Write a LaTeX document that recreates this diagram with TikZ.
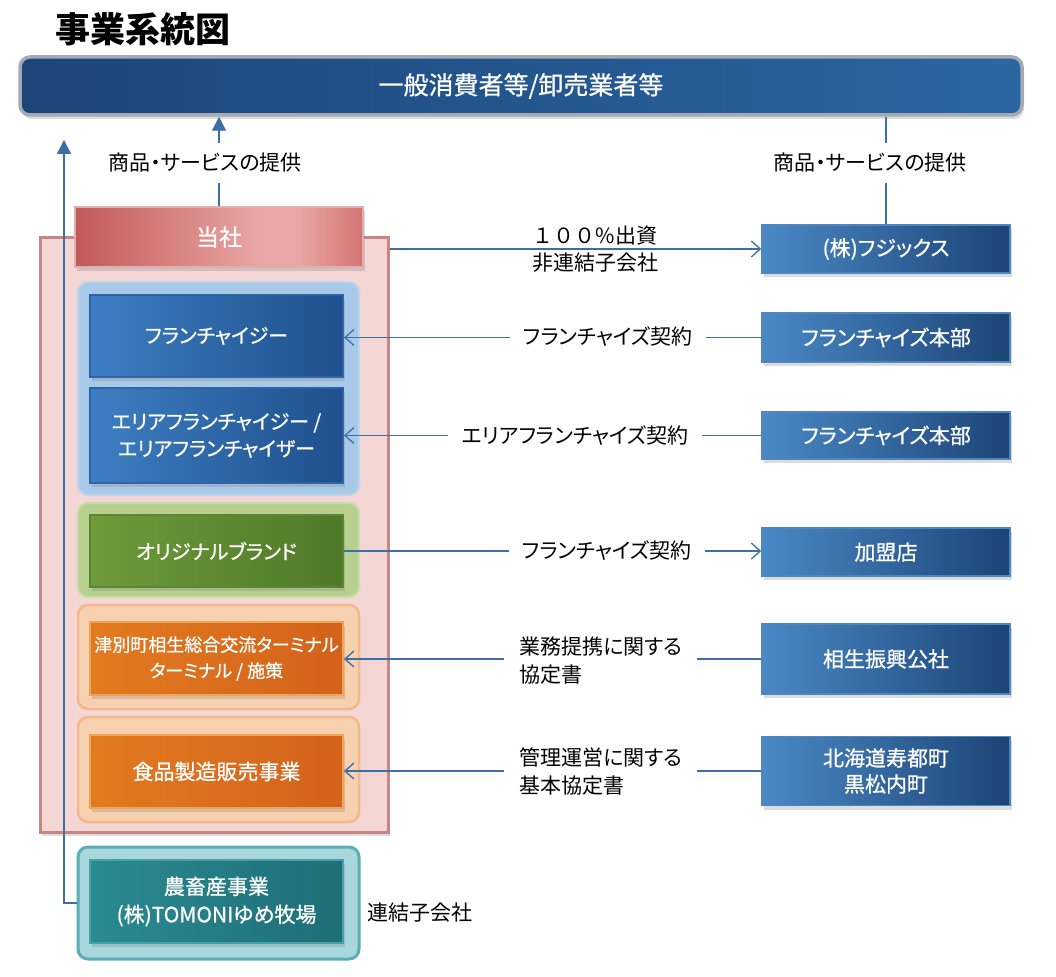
\documentclass[tikz,border=0pt]{standalone}
\usepackage{fontspec}
\setmainfont{Noto Sans CJK JP}[RawFeature=+palt]
\newfontfamily\jpfull{Noto Sans CJK JP}
\newfontfamily\jpsemi{Noto Sans CJK JP}[RawFeature=+palt, FakeBold=0.8]
\usetikzlibrary{arrows.meta,shadows,calc}

\definecolor{connc}{HTML}{3B6FA6}
\definecolor{tbL}{HTML}{1C4579}
\definecolor{tbR}{HTML}{2B66A3}
\definecolor{tbB}{HTML}{A3AAB3}
\definecolor{tsL}{HTML}{C25959}
\definecolor{tsM}{HTML}{E9A6A4}
\definecolor{tsR}{HTML}{D27472}
\definecolor{tsB}{HTML}{E2AEAD}
\definecolor{contF}{HTML}{F4D6D5}
\definecolor{contB}{HTML}{C98585}
\definecolor{bgF}{HTML}{A9C9E8}
\definecolor{bgB}{HTML}{BBD5EE}
\definecolor{ggF}{HTML}{B7D08F}
\definecolor{ggB}{HTML}{C8DCA8}
\definecolor{ogF}{HTML}{F7D0B0}
\definecolor{ogB}{HTML}{F2BA8C}
\definecolor{tgF}{HTML}{A9D8DC}
\definecolor{tgB}{HTML}{5BAEB6}
\definecolor{blL}{HTML}{3D7FC3}
\definecolor{blR}{HTML}{1F4F8C}
\definecolor{blB}{HTML}{2D65A6}
\definecolor{grL}{HTML}{6F9B3A}
\definecolor{grR}{HTML}{4F7929}
\definecolor{grB}{HTML}{5C8731}
\definecolor{orL}{HTML}{E27B1F}
\definecolor{orR}{HTML}{D4621B}
\definecolor{orB}{HTML}{F0A458}
\definecolor{teL}{HTML}{2B8A92}
\definecolor{teR}{HTML}{1E6E77}
\definecolor{teB}{HTML}{45A0A8}
\definecolor{rbL}{HTML}{4A89C6}
\definecolor{rbR}{HTML}{1C4476}
\definecolor{rbB}{HTML}{4F86C0}

\pgfdeclarehorizontalshading{toshash}{100bp}{color(0bp)=(tsL); color(25bp)=(tsL); color(57bp)=(tsM); color(64bp)=(tsM); color(75bp)=(tsR); color(100bp)=(tsR)}

\begin{document}
\begin{tikzpicture}[x=1pt,y=-1pt,
  shd/.style={drop shadow={opacity=0.28,shadow xshift=2pt,shadow yshift=-4pt}},
  lbl/.style={font=\fontsize{21}{28}\selectfont, text=black, inner sep=0pt},
  rbox/.style={shd, rectangle, minimum width=248pt, inner sep=0pt, left color=rbL, right color=rbR, draw=rbB, line width=1.5pt, text=white, align=center, font=\fontsize{21}{26}\jpsemi},
  inbox/.style={shd, rectangle, minimum width=253pt, inner sep=0pt, line width=2pt, text=white, align=center},
  bluein/.style={inbox, left color=blL, right color=blR, draw=blB, font=\fontsize{20}{27}\jpsemi},
  greenin/.style={inbox, left color=grL, right color=grR, draw=grB, font=\fontsize{20}{26}\jpsemi},
  orangein/.style={inbox, left color=orL, right color=orR, draw=orB},
  tealin/.style={inbox, left color=teL, right color=teR, draw=teB, font=\fontsize{21}{28}\jpsemi},
  grp/.style={rectangle, rounded corners=10pt, minimum width=281pt, inner sep=0pt, line width=2pt},
  conn/.style={draw=connc, line width=1.3pt},
  openarr/.style={-{Straight Barb[length=9pt,width=16pt]}},
  fillarr/.style={-{Triangle[length=14pt,width=14pt]}}
]
\useasboundingbox (0,0) rectangle (1056,976);

% title and top bar
\node[anchor=west, inner sep=0pt, font=\fontsize{35}{38}\selectfont\bfseries] (title) at (55,29) {事業系統図};
\node[shd, rounded corners=10pt, minimum width=1002pt, minimum height=58pt, left color=tbL, right color=tbR, draw=tbB, line width=3.5pt, text=white, font=\fontsize{25}{30}\jpsemi] (top) at (521,86) {一般消費者等/卸売業者等};

% container and company
\node[shd, rectangle, minimum width=348pt, minimum height=595pt, fill=contF, draw=contB, line width=3pt] (cont) at (214,534.5) {};
\node[shd, rectangle, minimum width=288pt, minimum height=60pt, shading=toshash, draw=tsB, line width=2pt, text=white, font=\fontsize{23}{28}\jpsemi] (tosha) at (219,237) {当社};

% groups
\node[grp, fill=bgF, draw=bgB, minimum height=213pt] (bgrp) at (218.5,388.5) {};
\node[grp, fill=ggF, draw=ggB, minimum height=94pt] (ggrp) at (218.5,550) {};
\node[grp, fill=ogF, draw=ogB, minimum height=104pt, line width=2.5pt] (ogrp1) at (218.5,657) {};
\node[grp, fill=ogF, draw=ogB, minimum height=105pt, line width=2.5pt] (ogrp2) at (218.5,769.5) {};
\node[grp, fill=tgF, draw=tgB, minimum height=112pt, line width=3pt] (tgrp) at (218.5,903) {};

% inner boxes
\node[bluein, minimum height=82pt] (fr) at (216.5,336) {フランチャイジー};
\node[bluein, minimum height=95pt] (afr) at (216.5,435.5) {エリアフランチャイジー /\\エリアフランチャイザー};
\node[greenin, minimum height=72pt] (orig) at (216.5,551) {オリジナルブランド};
\node[orangein, minimum height=73pt, font=\fontsize{18}{26}\jpsemi] (tsu) at (216.5,658.5) {津別町相生総合交流ターミナル\\ターミナル / 施策};
\node[orangein, minimum height=73pt, font=\fontsize{21}{26}\jpsemi] (food) at (216.5,771.5) {食品製造販売事業};
\node[tealin, minimum height=83pt] (farm) at (216.5,901.5) {農畜産事業\\(株)TOMONIゆめ牧場};
\node[lbl, anchor=west] (rk) at (367,913) {連結子会社};

% right boxes
\node[rbox, minimum height=48pt] (fujix) at (886,249) {(株)フジックス};
\node[rbox, minimum height=49pt] (hq1) at (886,337.5) {フランチャイズ本部};
\node[rbox, minimum height=47pt] (hq2) at (886,435.5) {フランチャイズ本部};
\node[rbox, minimum height=48pt] (kamei) at (886,552) {加盟店};
\node[rbox, minimum height=70pt] (aioi) at (886,659) {相生振興公社};
\node[rbox, minimum height=69pt] (suttsu) at (886,771) {北海道寿都町\\黒松内町};

% service labels and vertical connectors
\node[lbl, minimum height=40pt] (svcL) at (205,163) {商品・サービスの提供};
\node[lbl, minimum height=40pt] (svcR) at (870,163) {商品・サービスの提供};
\draw[conn] (tosha.north) -- (svcL.south -| tosha.north);
\draw[conn, fillarr] (svcL.north -| tosha.north) -- (top.south -| tosha.north);
\draw[conn] (top.south -| fujix.north) -- (svcR.north -| fujix.north);
\draw[conn] (svcR.south -| fujix.north) -- (fujix.north);

\coordinate (ltip) at (64,140);
\draw[conn, fillarr] (tgrp.west) -| (ltip);

% 100 percent line
\draw[conn, openarr] (cont.east |- fujix.west) -- (fujix.west);
\node[lbl, font={\fontsize{21}{26}\jpfull}] (pct) at (595,236) {１００\%出資};
\node[lbl] (nonc) at (595,263) {非連結子会社};

% contract connectors
\node[lbl, inner xsep=13pt] (c1) at (608,337) {フランチャイズ契約};
\draw[conn] (hq1.west) -- (hq1.west -| c1.east);
\draw[conn, openarr] (hq1.west -| c1.west) -- (hq1.west -| fr.east);

\node[lbl, inner xsep=13pt] (c2) at (575,436) {エリアフランチャイズ契約};
\draw[conn] (hq2.west) -- (hq2.west -| c2.east);
\draw[conn, openarr] (hq2.west -| c2.west) -- (hq2.west -| afr.east);

\node[lbl, inner xsep=13pt] (c3) at (607,551) {フランチャイズ契約};
\draw[conn] (orig.east) -- (orig.east -| c3.west);
\draw[conn, openarr] (orig.east -| c3.east) -- (orig.east -| kamei.west);

\node[lbl, align=left, inner xsep=15pt, anchor=west] (c4) at (504,661) {業務提携に関する\\協定書};
\draw[conn] (aioi.west) -- (aioi.west -| c4.east);
\draw[conn, openarr] (aioi.west -| c4.west) -- (aioi.west -| tsu.east);

\node[lbl, align=left, inner xsep=15pt, anchor=west] (c5) at (504,772) {管理運営に関する\\基本協定書};
\draw[conn] (suttsu.west) -- (suttsu.west -| c5.east);
\draw[conn, openarr] (suttsu.west -| c5.west) -- (suttsu.west -| food.east);
\end{tikzpicture}
\end{document}
